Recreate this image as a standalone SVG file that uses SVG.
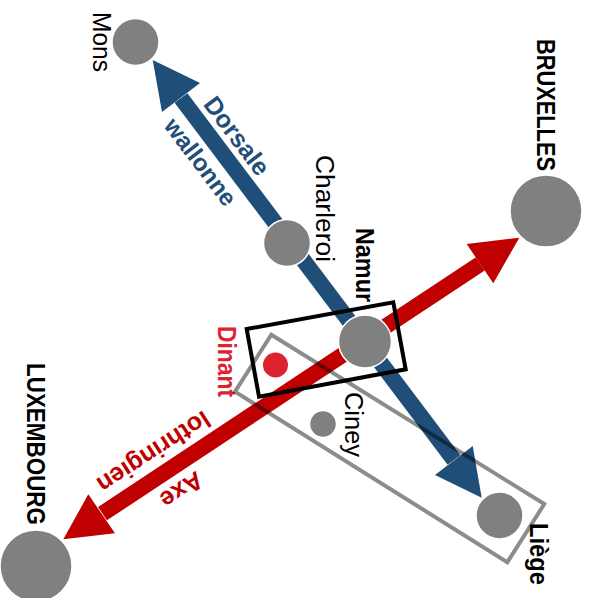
<svg xmlns="http://www.w3.org/2000/svg" width="589" height="598" viewBox="0 0 589 598">
<style>
text{font-family:"Liberation Sans",Arial,sans-serif;font-size:26px}
.b{font-weight:bold}
.n{fill:#808080;stroke:#fff;stroke-width:1.5}
.red{fill:#c00000}
.blue{fill:#1f4e79}
.lb{stroke:#1f4e79;stroke-width:16;fill:none}
.lr{stroke:#c00000;stroke-width:16;fill:none}
.a{font-weight:bold;text-anchor:middle;font-size:25px}
</style>
<rect width="589" height="598" fill="#fff"/>
<g id="connectors">
<line class="lb" x1="181" y1="98" x2="454" y2="460"/>
<polygon class="blue" points="152.7,60 200,83 162,112"/>
<polygon class="blue" points="481.7,497.7 435,475 472.7,446"/>
<line class="lr" x1="102.5" y1="513.7" x2="480.3" y2="263.8"/>
<polygon class="red" points="519.3,237.7 466.7,244 493.3,283.3"/>
<polygon class="red" points="63.3,539.3 88.3,494.3 115,533.3"/>
</g>
<g id="node-mons"><circle class="n" cx="135.5" cy="42" r="23.5"/><text transform="translate(93,12) rotate(90)" textLength="60" lengthAdjust="spacingAndGlyphs">Mons</text></g>
<g id="node-charleroi"><circle class="n" cx="287" cy="243" r="23.5"/><text transform="translate(316,155) rotate(90)" textLength="107" lengthAdjust="spacingAndGlyphs">Charleroi</text></g>
<g id="node-namur"><circle class="n" cx="365" cy="341.5" r="26.5"/><text class="b" transform="translate(356,228) rotate(90)" textLength="74" lengthAdjust="spacingAndGlyphs">Namur</text></g>
<g id="node-dinant"><circle cx="275.5" cy="365" r="12.5" fill="#dc2430"/><text class="b" transform="translate(218,326) rotate(90)" style="fill:#dc2430" textLength="71" lengthAdjust="spacingAndGlyphs">Dinant</text></g>
<g id="node-ciney"><circle class="n" cx="323" cy="424" r="13.5"/><text transform="translate(345,392) rotate(90)" textLength="65" lengthAdjust="spacingAndGlyphs">Ciney</text></g>
<g id="node-liege"><circle class="n" cx="499.5" cy="515.5" r="23.5"/><text class="b" transform="translate(530,523) rotate(90)" textLength="62" lengthAdjust="spacingAndGlyphs">Liège</text></g>
<g id="node-bruxelles"><circle class="n" cx="546" cy="211" r="36"/><text class="b" transform="translate(537,39) rotate(90)" textLength="132" lengthAdjust="spacingAndGlyphs">BRUXELLES</text></g>
<g id="node-luxembourg"><circle class="n" cx="36" cy="566" r="36"/><text class="b" transform="translate(26.5,363) rotate(90)" textLength="162" lengthAdjust="spacingAndGlyphs">LUXEMBOURG</text></g>
<g id="label-dorsale"><text class="a" fill="#1f4e79" transform="translate(230,141) rotate(53)">Dorsale</text><text class="a" fill="#1f4e79" transform="translate(194,167) rotate(53)" style="font-size:24px">wallonne</text></g>
<g id="label-axe"><text class="a" fill="#c00000" transform="translate(177,483) rotate(147)">Axe</text><text class="a" fill="#c00000" transform="translate(149,445) rotate(147)">lothringien</text></g>
<polygon id="box-dinant-liege" points="271.3,334.7 544.3,504 507.3,562.3 235,391.7" fill="none" stroke="#000" stroke-opacity=".45" stroke-width="4"/>
<polygon id="box-namur" points="246.7,329 393.3,302.3 405.7,369.3 259,396.7" fill="none" stroke="#000" stroke-width="4"/>
</svg>
